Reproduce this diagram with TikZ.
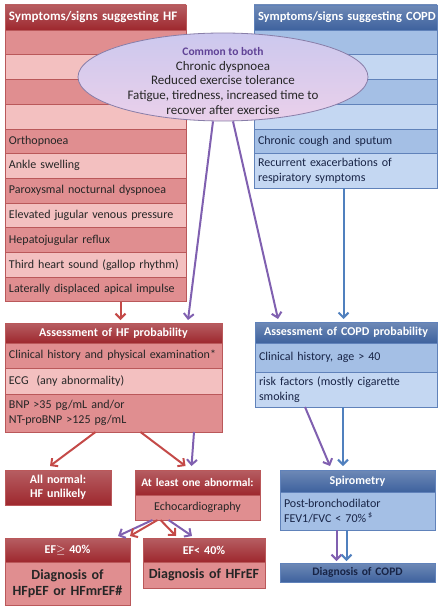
\documentclass[tikz,border=0pt]{standalone}
\usepackage{fontspec}
\setmainfont{Carlito}
\usetikzlibrary{positioning,shapes.geometric,arrows.meta}

\definecolor{hfdark}{RGB}{158,40,46}
\definecolor{hfrow}{RGB}{224,142,144}
\definecolor{hflight}{RGB}{243,192,192}
\definecolor{hfline}{RGB}{186,88,90}
\definecolor{copddark}{RGB}{62,98,158}
\definecolor{copdrow}{RGB}{164,191,229}
\definecolor{copdlight}{RGB}{196,215,242}
\definecolor{copdline}{RGB}{96,130,186}
\definecolor{purplearr}{RGB}{128,96,176}
\definecolor{redarr}{RGB}{196,74,72}
\definecolor{bluearr}{RGB}{80,128,190}
\definecolor{elltop}{RGB}{204,200,238}
\definecolor{ellbottom}{RGB}{234,208,234}
\definecolor{ellline}{RGB}{136,126,168}
\definecolor{commonpurple}{RGB}{96,66,150}
\definecolor{navytext}{RGB}{24,36,70}

\tikzset{
  box/.style={rectangle, draw, line width=0.6pt, outer sep=0pt,
    inner xsep=4pt, inner ysep=0pt, align=left,
    font=\fontsize{12}{14.5}\selectfont},
  hfhead/.style={box, draw=hfline, top color=hfdark!75!white, bottom color=hfdark,
    text=white, font=\bfseries\fontsize{13}{15}\selectfont},
  hfcell/.style={box, draw=hfline, fill=hfrow, text=black!85},
  hfcelllt/.style={box, draw=hfline, fill=hflight, text=black!85},
  copdhead/.style={box, draw=copdline, top color=copddark!75!white, bottom color=copddark,
    text=white, font=\bfseries\fontsize{13}{15}\selectfont},
  copdcell/.style={box, draw=copdline, fill=copdrow, text=navytext},
  copdcelllt/.style={box, draw=copdline, fill=copdlight, text=navytext},
  hfcol/.style={text width=173pt, minimum height=24.7pt},
  copdcol/.style={text width=175pt, minimum height=24.7pt},
  arr/.style={line width=2pt, -{Straight Barb[length=5pt,width=10pt]}},
  redarrow/.style={arr, draw=redarr},
  purplearrow/.style={arr, draw=purplearr},
  bluearrow/.style={arr, draw=bluearr}
}

\begin{document}
\begin{tikzpicture}[x=1pt, y=-1pt]
  \useasboundingbox (0,0) rectangle (441,607);

  % symptoms of heart failure
  \node[hfhead, hfcol, minimum height=25pt, anchor=north west] (hf0) at (5,5) {Symptoms/signs suggesting HF};
  \node[hfcell, hfcol, below=0pt of hf0] (hf1) {};
  \node[hfcelllt, hfcol, below=0pt of hf1] (hf2) {};
  \node[hfcell, hfcol, below=0pt of hf2] (hf3) {};
  \node[hfcelllt, hfcol, below=0pt of hf3] (hf4) {};
  \node[hfcell, hfcol, below=0pt of hf4] (hf5) {Orthopnoea};
  \node[hfcelllt, hfcol, below=0pt of hf5] (hf6) {Ankle swelling};
  \node[hfcell, hfcol, below=0pt of hf6] (hf7) {Paroxysmal nocturnal dyspnoea};
  \node[hfcelllt, hfcol, below=0pt of hf7] (hf8) {Elevated jugular venous pressure};
  \node[hfcell, hfcol, below=0pt of hf8] (hf9) {Hepatojugular reflux};
  \node[hfcelllt, hfcol, below=0pt of hf9] (hf10) {Third heart sound (gallop rhythm)};
  \node[hfcell, hfcol, below=0pt of hf10] (hf11) {Laterally displaced apical impulse};

  % symptoms of COPD
  \node[copdhead, copdcol, minimum height=25pt, anchor=north west,
    font=\bfseries\fontsize{12.5}{15}\selectfont] (copd0) at (254,5) {\mbox{Symptoms/signs suggesting COPD}};
  \node[copdcell, copdcol, below=0pt of copd0] (copd1) {};
  \node[copdcelllt, copdcol, below=0pt of copd1] (copd2) {};
  \node[copdcell, copdcol, below=0pt of copd2] (copd3) {};
  \node[copdcelllt, copdcol, below=0pt of copd3] (copd4) {};
  \node[copdcell, copdcol, below=0pt of copd4] (copd5) {Chronic cough and sputum};
  \node[copdcelllt, copdcol, minimum height=34.5pt, below=0pt of copd5] (copd6) {Recurrent exacerbations of\\respiratory symptoms};

  % common symptoms
  \node[ellipse, draw=ellline, line width=0.8pt, top color=elltop, bottom color=ellbottom,
    minimum width=290pt, minimum height=88pt] (ell) at (223,77) {};
  \node[align=center, font=\fontsize{13}{14.6}\selectfont, text=black!85] (common) at ([yshift=-4pt]ell.center)
    {{\color{commonpurple}\bfseries\fontsize{11.5}{14.6}\selectfont Common to both}\\
     Chronic dyspnoea\\
     Reduced exercise tolerance\\
     Fatigue, tiredness, increased time to\\
     recover after exercise};

  % assessment of probability
  \node[hfhead, text width=209pt, minimum height=20pt, align=center, anchor=north west,
    font=\bfseries\fontsize{12}{14}\selectfont] (hfa0) at (5,323) {Assessment of HF probability};
  \node[hfcell, text width=209pt, minimum height=25pt, below=0pt of hfa0] (hfa1) {Clinical history and physical examination*};
  \node[hfcelllt, text width=209pt, minimum height=26pt, below=0pt of hfa1] (hfa2) {ECG\ \ (any abnormality)};
  \node[hfcell, text width=209pt, minimum height=38pt, below=0pt of hfa2] (hfa3) {BNP >35 pg/mL and/or\\NT-proBNP >125 pg/mL};

  \node[copdhead, text width=174pt, minimum height=21pt, align=center, anchor=north west,
    font=\bfseries\fontsize{12}{14}\selectfont] (copda0) at (255,322) {Assessment of COPD probability};
  \node[copdcell, text width=174pt, minimum height=29pt, below=0pt of copda0] (copda1) {Clinical history, age > 40};
  \node[copdcelllt, text width=174pt, minimum height=35pt, below=0pt of copda1] (copda2) {risk factors (mostly cigarette\\smoking};

  % outcome of HF work-up
  \node[hfhead, text width=98pt, minimum height=35pt, align=center, anchor=north west,
    font=\bfseries\fontsize{12}{14}\selectfont] (normal) at (5,470) {All normal:\\HF unlikely};
  \node[hfhead, text width=117pt, minimum height=25pt, align=center, anchor=north west,
    font=\bfseries\fontsize{11.5}{14}\selectfont] (abn1) at (135,470) {At least one abnormal:};
  \node[hfcell, text width=117pt, minimum height=25pt, align=center, below=0pt of abn1] (abn2) {Echocardiography};

  \node[hfhead, text width=117pt, minimum height=24pt, align=center, anchor=north west,
    font=\bfseries\fontsize{12}{14}\selectfont] (efp1) at (5,538) {EF\(\geq\) 40\%};
  \node[hfcell, text width=117pt, minimum height=43pt, align=center, below=0pt of efp1,
    font=\bfseries\fontsize{14}{16.5}\selectfont] (efp2) {Diagnosis of\\HFpEF or HFmrEF\#};
  \node[hfhead, text width=114pt, minimum height=24pt, align=center, anchor=north west,
    font=\bfseries\fontsize{12}{14}\selectfont] (efr1) at (143,538) {EF< 40\%};
  \node[hfcell, text width=114pt, minimum height=26pt, align=center, below=0pt of efr1,
    font=\bfseries\fontsize{14}{16.5}\selectfont] (efr2) {Diagnosis of HFrEF};

  % outcome of COPD work-up
  \node[copdhead, text width=147pt, minimum height=22pt, align=center, anchor=north west,
    font=\bfseries\fontsize{12}{14}\selectfont] (spiro1) at (280,470) {Spirometry};
  \node[copdcell, text width=147pt, minimum height=38pt, below=0pt of spiro1] (spiro2) {Post-bronchodilator\\FEV1/FVC < 70\%\,\textsuperscript{\$}};
  \node[copdhead, text width=147pt, minimum height=19pt, align=center, anchor=north west,
    text=navytext, font=\bfseries\fontsize{11.5}{14}\selectfont] (diag) at (280,563) {Diagnosis of COPD};

  % arrows
  \draw[redarrow] ([xshift=25pt]hf11.south) -- ([xshift=25pt,yshift=3pt]hf11.south |- hfa0.north);
  \draw[purplearrow] ([xshift=-10pt]ell.south) -- ([xshift=-34pt,yshift=3pt]hfa0.north east);
  \draw[purplearrow] ([xshift=10pt]ell.south) -- ([xshift=23pt,yshift=3pt]copda0.north west);
  \draw[bluearrow] ([xshift=-2pt]copd6.south) -- ([xshift=-2pt,yshift=3pt]copd6.south |- copda0.north);

  \draw[redarrow] ([xshift=-18pt]hfa3.south) -- ([xshift=-8pt,yshift=4pt]normal.north);
  \draw[redarrow] ([xshift=27pt]hfa3.south) -- ([xshift=-12pt,yshift=4pt]abn1.north);
  \draw[purplearrow] ([xshift=-28pt]hfa3.south east) -- ([xshift=-6pt,yshift=4pt]abn1.north);
  \draw[purplearrow] ([xshift=-41pt]copda2.south) -- ([xshift=-27.5pt,yshift=4pt]spiro1.north);
  \draw[bluearrow] ([xshift=-3pt]copda2.south) -- ([xshift=-14.5pt,yshift=4pt]spiro1.north);

  \draw[purplearrow] ([xshift=-45pt]abn2.south) -- ([xshift=50.5pt,yshift=2pt]efp1.north);
  \draw[redarrow] ([xshift=-40pt]abn2.south) -- ([xshift=62.5pt,yshift=2pt]efp1.north);
  \draw[redarrow] ([xshift=-37pt]abn2.south) -- ([xshift=-28pt,yshift=2pt]efr1.north);
  \draw[purplearrow] ([xshift=-29pt]abn2.south) -- ([xshift=-12pt,yshift=2pt]efr1.north);

  \draw[purplearrow] ([xshift=-21pt]spiro2.south) -- ([xshift=-21pt,yshift=2pt]diag.north);
  \draw[bluearrow] ([xshift=-11pt]spiro2.south) -- ([xshift=-11pt,yshift=2pt]diag.north);
\end{tikzpicture}
\end{document}
